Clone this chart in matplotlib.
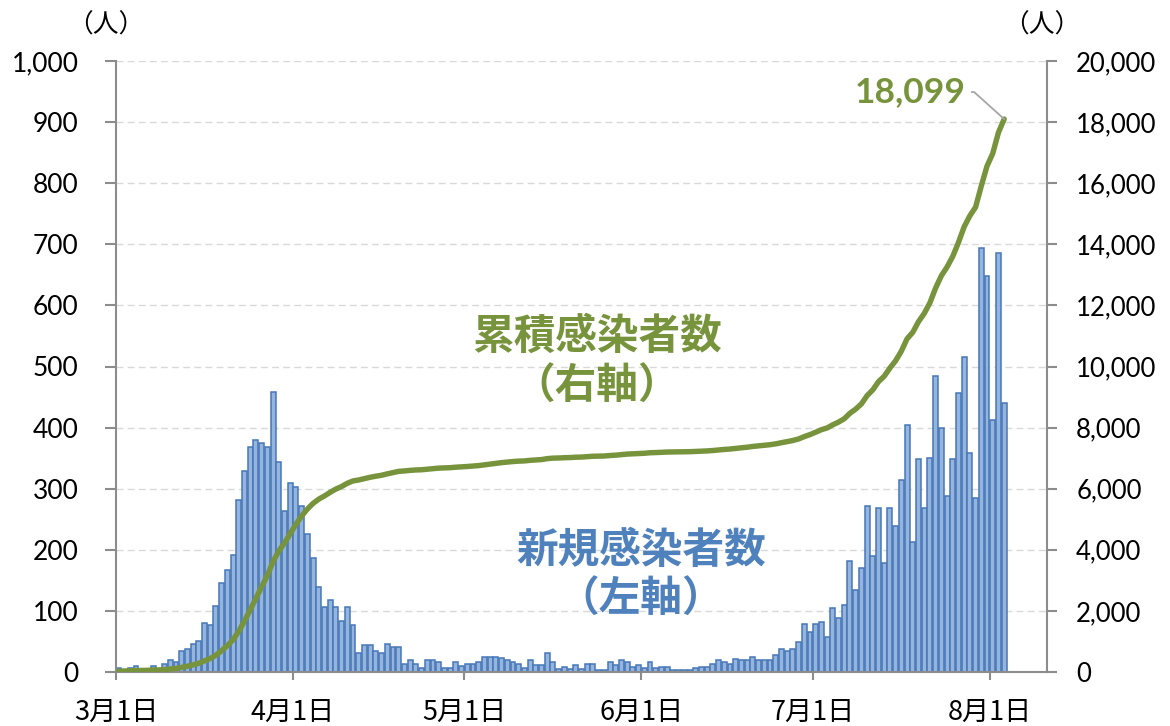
import numpy as np
import matplotlib
matplotlib.use("Agg")
import matplotlib.pyplot as plt
import matplotlib.dates as mdates
from matplotlib.ticker import FuncFormatter

# ---------------- data ----------------
first_day = "2020-03-01"
axis_end = "2020-08-11"

mar_new = [6, 2, 6, 10, 3, 3, 10, 3, 13, 19, 16, 35, 38, 46, 50, 81, 77, 108, 146, 167,
           192, 282, 329, 368, 380, 375, 368, 458, 344, 263, 309]
apr_new = [303, 272, 226, 186, 139, 106, 118, 106, 84, 106, 77, 31, 44, 44, 35, 31, 46, 41, 41, 13,
           19, 13, 7, 19, 19, 16, 7, 7, 16, 10]
may_new = [13, 13, 16, 24, 25, 25, 23, 19, 17, 13, 7, 20, 12, 12, 31, 16, 5, 9, 5, 12,
           5, 13, 13, 4, 4, 16, 12, 19, 16, 9, 12]
jun_new = [6, 16, 6, 9, 9, 3, 3, 3, 3, 7, 9, 9, 13, 19, 16, 13, 22, 19, 19, 25,
           19, 19, 19, 28, 38, 34, 38, 49, 78, 66]
jul_new = [78, 82, 57, 104, 88, 109, 181, 134, 171, 271, 190, 268, 178, 268, 239, 314, 404, 212, 348, 268,
           350, 484, 400, 288, 348, 456, 515, 358, 285, 694, 648]
aug_new = [413, 685, 440]

cum_before = 25          # cumulative count before 1 March
total_label = "18,099"

left_ticks = list(range(0, 1001, 100))
right_ticks = list(range(0, 20001, 2000))
month_starts = ["2020-03-01", "2020-04-01", "2020-05-01", "2020-06-01", "2020-07-01", "2020-08-01"]
month_labels = ["3月1日", "4月1日", "5月1日", "6月1日", "7月1日", "8月1日"]

daily_new = np.array(mar_new + apr_new + may_new + jun_new + jul_new + aug_new)
dates = np.datetime64(first_day) + np.arange(len(daily_new)).astype("timedelta64[D]")
cumulative = cum_before + np.cumsum(daily_new)

# ---------------- style ----------------
green = "#77933C"
blue = "#4F81BD"
axis_gray = "#8C8C8C"
cjk = ["Noto Sans CJK JP", "DejaVu Sans"]
num_font = ["Lato", "DejaVu Sans"]

W, H = 1170, 726
fig = plt.figure(figsize=(W / 100, H / 100), dpi=100)
fig.patch.set_facecolor("white")
ax = fig.add_axes([116 / W, 1 - 672 / H, (1047 - 116) / W, (672 - 61) / H])

x = mdates.date2num(dates) + 0.5
ax.bar(x, daily_new, width=0.86, facecolor="#95B4DE", edgecolor="#4677B8",
       linewidth=1.1, zorder=2)

ax.set_xlim(mdates.date2num(np.datetime64(first_day)), mdates.date2num(np.datetime64(axis_end)))
ax.set_ylim(0, 1000)
ax.set_yticks(left_ticks)
ax.yaxis.set_major_formatter(FuncFormatter(lambda v, p: f"{int(v):,}"))
ax.yaxis.grid(True, color="#D9D9D9", linestyle=(0, (5, 3)), linewidth=1.0)
ax.set_axisbelow(True)

ax.set_xticks(mdates.date2num(np.array(month_starts, dtype="datetime64[D]")))
ax.set_xticklabels(month_labels, fontfamily=cjk, fontsize=19.5)

for lab in ax.get_yticklabels():
    lab.set_fontfamily(num_font)
    lab.set_fontsize(19)

ax.tick_params(axis="y", direction="out", length=8, width=1.5, color=axis_gray, pad=19)
ax.tick_params(axis="x", direction="out", length=6, width=1.5, color=axis_gray, pad=13)

for s in ["top", "right"]:
    ax.spines[s].set_visible(False)
for s in ["left", "bottom"]:
    ax.spines[s].set_color(axis_gray)
    ax.spines[s].set_linewidth(1.5)

ax2 = ax.twinx()
ax2.plot(x, cumulative, color=green, lw=3.9, solid_joinstyle="round",
         solid_capstyle="round", zorder=3)
ax2.set_ylim(0, 20000)
ax2.set_yticks(right_ticks)
ax2.yaxis.set_major_formatter(FuncFormatter(lambda v, p: f"{int(v):,}"))
for lab in ax2.get_yticklabels():
    lab.set_fontfamily(num_font)
    lab.set_fontsize(18.5)
ax2.tick_params(axis="y", direction="out", length=7, width=1.5, color=axis_gray, pad=14)
for s in ["top", "left", "bottom"]:
    ax2.spines[s].set_visible(False)
ax2.spines["right"].set_color(axis_gray)
ax2.spines["right"].set_linewidth(1.5)

ax2.annotate(total_label, xy=(x[-1], cumulative[-1]), xytext=(-38, 27),
             textcoords="offset pixels", ha="right", va="center",
             fontsize=25.5, fontweight="bold", color=green, fontfamily=num_font,
             arrowprops=dict(arrowstyle="-", color="#A6A6A6", lw=1.3, shrinkA=2, shrinkB=0,
                             connectionstyle="angle,angleA=0,angleB=-42,rad=0"))

# series labels
ax.text(0.5166, 0.548, "累積感染者数", transform=ax.transAxes, ha="center", va="center",
        fontsize=30, fontweight="bold", color=green, fontfamily=cjk)
ax.text(0.5166, 0.466, "（右軸）", transform=ax.transAxes, ha="center", va="center",
        fontsize=30, fontweight="bold", color=green, fontfamily=cjk)
ax.text(0.564, 0.198, "新規感染者数", transform=ax.transAxes, ha="center", va="center",
        fontsize=30, fontweight="bold", color=blue, fontfamily=cjk)
ax.text(0.564, 0.118, "（左軸）", transform=ax.transAxes, ha="center", va="center",
        fontsize=30, fontweight="bold", color=blue, fontfamily=cjk)

# unit labels
fig.text(106 / W, 1 - 26 / H, "（人）", ha="center", va="center", fontsize=18.5, fontfamily=cjk)
fig.text(1042 / W, 1 - 26 / H, "（人）", ha="center", va="center", fontsize=18.5, fontfamily=cjk)

fig.savefig("out.png", dpi=100, facecolor="white")
